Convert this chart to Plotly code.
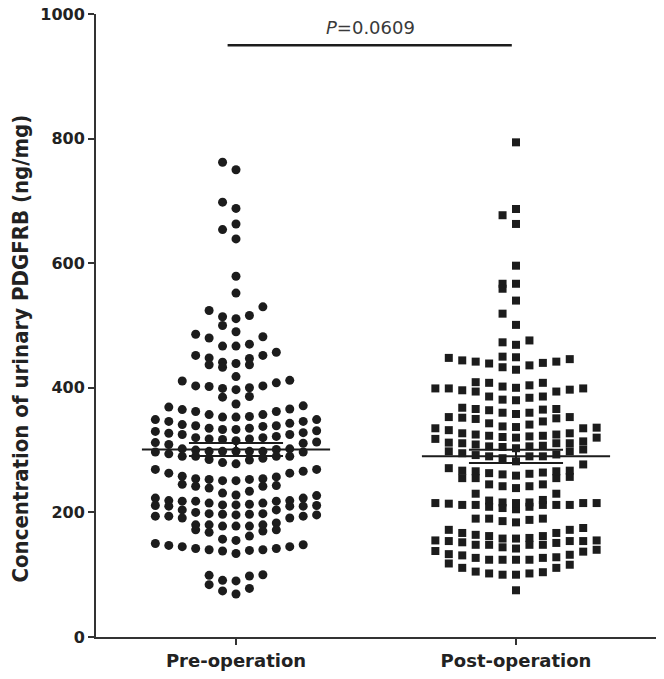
import numpy as np
import plotly.graph_objects as go

CATEGORIES = ["Pre-operation", "Post-operation"]

PRE_VALUES = [
    762, 750, 698, 688, 663, 654, 639, 579, 552, 530, 524, 516, 514, 511, 500, 490,
    482, 486, 480,
    470, 467, 457, 467,
    452, 448, 441, 437, 433, 437, 439, 447, 452,
    418, 411, 403, 402, 399, 397, 400, 403, 408, 412,
    386, 374, 369, 371, 385,
    365, 362, 357, 353, 349, 346, 346, 349, 353, 354, 357, 362, 366,
    343, 339, 335, 333, 330, 327, 328, 331, 333, 335, 338, 339, 341,
    320, 318, 315, 313, 312, 325, 322, 325, 317, 318, 320, 309, 311,
    300, 298, 297, 302, 298, 294, 298, 302, 298, 298, 297, 301,
    290, 290, 287, 290, 290, 278, 280, 285, 284,
    269, 263, 258, 254, 253, 251, 251, 253, 254, 257, 263, 266, 269,
    245, 242, 242, 239, 243,
    223, 219, 231, 218, 228, 218, 227, 219, 234, 223,
    215, 212, 212, 211, 210, 204, 204, 210, 210, 211, 213, 215, 218,
    197, 197, 194, 191, 191, 200, 198, 196, 194, 196, 194, 198,
    180, 178, 172, 170, 183, 180, 180, 168, 172, 178, 178,
    162, 157,
    155, 148, 145, 142, 140, 139, 134, 138, 140, 142, 145, 147, 150,
    99, 91, 90, 98, 100, 78, 84, 69, 74,
]

POST_VALUES = [
    794, 687, 677, 663, 596, 567, 567, 559, 540, 519, 501,
    473, 469, 476,
    449, 446, 442, 440, 436, 429, 433, 439, 442, 444, 448, 450,
    399, 399, 396, 394, 408, 404, 402, 408, 409, 394, 397, 399, 400,
    386, 386, 380, 381, 384,
    366, 365, 360, 358, 353, 351, 350, 352, 353, 360, 364, 366, 368,
    346, 343, 335, 332, 327, 325, 325, 327, 337, 335, 336, 338, 341,
    320, 318, 314, 311, 309, 323, 322, 323, 311, 311, 312, 320, 321,
    306, 305, 307, 306, 303, 301,
    298, 290, 287, 282, 290, 293, 290, 298, 295, 292,
    277, 271,
    266, 267, 263, 261, 257, 255, 255, 255, 259, 262, 264, 266, 267,
    245, 242, 239, 230, 230, 242, 245,
    215, 214, 212, 212, 219, 209, 216, 207, 216, 205, 220, 209, 215, 212, 212, 212, 215, 215,
    190, 190, 186, 184, 188, 190,
    158, 154, 144, 154, 138, 154, 167, 148, 167, 175, 148, 162, 172, 148, 164, 172, 148,
    162, 152, 155, 155, 158, 142, 159, 151,
    118, 132, 111, 133, 127, 124, 124, 124, 127, 131, 111, 137, 116, 124, 128, 140,
    105, 102, 100, 100, 102, 104,
    75,
]

MEANS = [301, 290]
SEMS = [10.5, 10.6]
Y_TICKS = [0, 200, 400, 600, 800, 1000]
Y_TITLE = "Concentration of urinary PDGFRB (ng/mg)"
P_TEXT = "<i>P</i>=0.0609"
P_LEVEL = 950

INK = "#1c1c1c"


def row_offsets(values, step=0.048, row_h=20.0, max_per_row=13):
    """GraphPad-like scatter-dot layout: values grouped into horizontal rows,
    each row filled from the centre outward (0, -1, +1, -2, +2, ...)."""
    vals = np.asarray(values, dtype=float)
    order = np.argsort(vals, kind="stable")
    offs = np.zeros(len(vals))
    n = len(vals)
    i = 0
    while i < n:
        start = vals[order[i]]
        row = [order[i]]
        j = i + 1
        while j < n and vals[order[j]] < start + row_h and len(row) < max_per_row:
            row.append(order[j])
            j += 1
        for k, idx in enumerate(row):
            if k == 0:
                col = 0
            elif k % 2 == 1:
                col = -((k + 1) // 2)
            else:
                col = k // 2
            offs[idx] = col * step
        i = j
    return offs


fig = go.Figure()

groups = [(PRE_VALUES, "circle", 9), (POST_VALUES, "square", 8)]
for idx, (vals, sym, size) in enumerate(groups):
    xs = idx + row_offsets(vals)
    fig.add_trace(go.Scatter(
        x=xs, y=vals, mode="markers",
        marker=dict(symbol=sym, size=size, color=INK, line=dict(width=0)),
        showlegend=False, hoverinfo="y",
    ))

# mean and SEM
for idx in range(2):
    m, s = MEANS[idx], SEMS[idx]
    fig.add_trace(go.Scatter(x=[idx - 0.336, idx + 0.336], y=[m, m], mode="lines",
                             line=dict(color=INK, width=2), showlegend=False, hoverinfo="skip"))
    for yy in (m - s, m + s):
        fig.add_trace(go.Scatter(x=[idx - 0.168, idx + 0.168], y=[yy, yy], mode="lines",
                                 line=dict(color=INK, width=2), showlegend=False, hoverinfo="skip"))
    fig.add_trace(go.Scatter(x=[idx, idx], y=[m - s, m + s], mode="lines",
                             line=dict(color=INK, width=2), showlegend=False, hoverinfo="skip"))

# significance bar
fig.add_trace(go.Scatter(x=[-0.03, 0.985], y=[P_LEVEL, P_LEVEL], mode="lines",
                         line=dict(color=INK, width=2.5), showlegend=False, hoverinfo="skip"))
fig.add_annotation(x=0.48, y=P_LEVEL + 29, xref="x", yref="y", text=P_TEXT, showarrow=False,
                   font=dict(family="DejaVu Sans, Liberation Sans, sans-serif", size=18, color="#3a3a3a"))

# y-axis title (placed slightly below the axis centre, as in the original)
fig.add_annotation(x=0, y=0.463, xref="paper", yref="paper", xanchor="center", yanchor="middle",
                   xshift=-75, textangle=-90, text=Y_TITLE, showarrow=False,
                   font=dict(size=22, family="Liberation Sans Narrow, DejaVu Sans Condensed, Arial Narrow, sans-serif",
                             weight="bold", color="#222"))

fig.update_layout(
    width=656, height=671,
    margin=dict(l=88, r=8, t=6, b=41.5, autoexpand=False),
    plot_bgcolor="white", paper_bgcolor="white",
    font=dict(family="DejaVu Sans, Liberation Sans, sans-serif", color=INK),
)
fig.update_xaxes(
    range=[-0.5, 1.5], tickmode="array", tickvals=[0, 1], ticktext=CATEGORIES,
    showgrid=False, zeroline=False, showline=True, linecolor="#333", linewidth=2,
    ticks="outside", ticklen=6, tickwidth=2, tickcolor="#333", ticklabeloverflow="allow",
    automargin=False,
    tickfont=dict(size=18, family="DejaVu Sans, Liberation Sans, sans-serif", weight="bold", color="#222"),
)
fig.update_yaxes(
    range=[0, 1000], tickmode="array", tickvals=Y_TICKS,
    showgrid=False, zeroline=False, showline=True, linecolor="#333", linewidth=2,
    ticks="outside", ticklen=6, tickwidth=2, tickcolor="#333", ticklabeloverflow="allow",
    automargin=False,
    tickfont=dict(size=16, family="DejaVu Sans, Liberation Sans, sans-serif", weight="bold", color="#222"),
)

fig.write_html("out.html")
